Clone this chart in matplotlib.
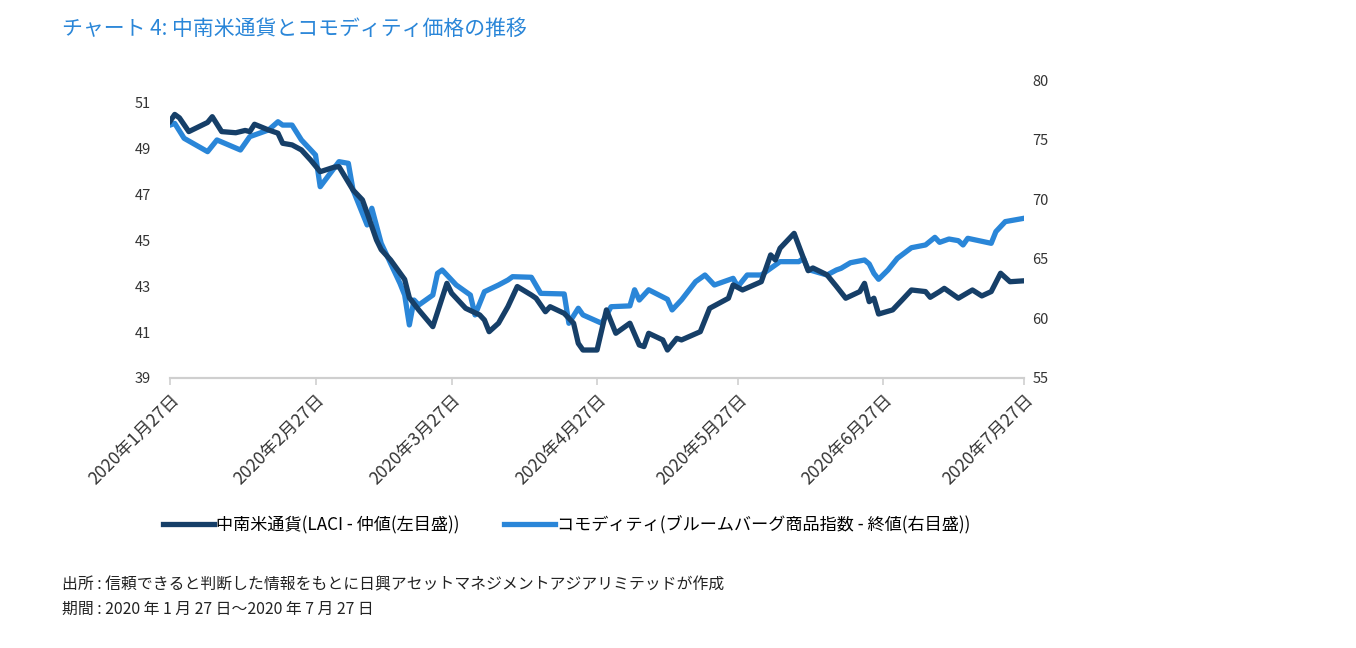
import pandas as pd
import matplotlib
matplotlib.use("Agg")
import matplotlib.pyplot as plt
from matplotlib.lines import Line2D

plt.rcParams['font.family'] = ['Noto Sans CJK JP', 'DejaVu Sans']

# 中南米通貨 (LACI) — days since 2020-01-27, value (left axis)
laci_day = [0, 1, 2, 4, 8, 9, 11, 14, 16, 17, 18, 21, 23, 24, 26, 28, 30, 32, 35, 36,
            39, 41, 42, 44, 45, 47, 50, 51, 53, 56, 59, 60, 63, 66, 67, 68, 70, 72, 74, 77,
            78, 80, 81, 84, 86, 87, 88, 91, 93, 95, 98, 100, 101, 102, 105, 106, 108, 109, 113, 115,
            119, 120, 122, 126, 128, 129, 130, 133, 136, 137, 140, 142, 144, 147, 148, 149, 150, 151, 154, 156,
            158, 161, 162, 164, 165, 168, 171, 173, 175, 177, 179, 182]
laci_val = [50.2, 50.5, 50.35, 49.75, 50.15, 50.4, 49.75, 49.7, 49.8, 49.75, 50.07, 49.82, 49.68, 49.24, 49.17, 48.95, 48.5, 48.0, 48.2, 48.22,
            47.2, 46.77, 46.2, 45.02, 44.6, 44.15, 43.3, 42.5, 41.97, 41.24, 43.13, 42.7, 42.04, 41.75, 41.53, 41.02, 41.39, 42.11, 42.99, 42.62,
            42.48, 41.89, 42.11, 41.82, 41.39, 40.51, 40.22, 40.22, 41.97, 40.95, 41.39, 40.44, 40.37, 40.95, 40.66, 40.22, 40.73, 40.66, 41.02, 42.04,
            42.48, 43.06, 42.84, 43.2, 44.37, 44.15, 44.66, 45.31, 43.68, 43.8, 43.5, 43.0, 42.48, 42.77, 43.13, 42.33, 42.48, 41.79, 41.97, 42.4,
            42.84, 42.77, 42.52, 42.77, 42.91, 42.48, 42.84, 42.58, 42.77, 43.57, 43.2, 43.24]

# コモディティ (ブルームバーグ商品指数) — days since 2020-01-27, value (right axis)
bcom_day = [0, 1, 3, 8, 10, 15, 17, 21, 23, 24, 26, 28, 31, 32, 36, 38, 39, 42, 43, 45,
            49, 50, 51, 52, 53, 56, 57, 58, 61, 64, 65, 67, 70, 72, 73, 77, 79, 84, 85, 87,
            88, 92, 94, 98, 99, 100, 102, 106, 107, 109, 112, 114, 116, 120, 121, 123, 126, 130, 134, 135,
            136, 140, 142, 143, 145, 148, 149, 150, 151, 153, 155, 158, 161, 163, 164, 166, 168, 169, 170, 175,
            176, 178, 182]
bcom_val = [76.22, 76.36, 75.11, 73.99, 74.97, 74.13, 75.25, 75.81, 76.5, 76.22, 76.22, 74.97, 73.71, 71.05, 73.15, 73.01, 70.77, 67.84, 69.24, 66.3,
            62.94, 61.96, 59.45, 61.54, 61.12, 61.96, 63.78, 64.06, 62.8, 61.96, 60.29, 62.24, 62.8, 63.22, 63.5, 63.45, 62.1, 62.05, 59.59, 60.85,
            60.29, 59.59, 60.98, 61.05, 62.4, 61.54, 62.4, 61.6, 60.71, 61.55, 63.08, 63.64, 62.8, 63.36, 62.66, 63.64, 63.64, 64.76, 64.76, 65.04,
            64.1, 63.64, 64.06, 64.2, 64.67, 64.9, 64.57, 63.78, 63.28, 64.06, 65.04, 65.93, 66.16, 66.8, 66.38, 66.66, 66.52, 66.16, 66.72, 66.3,
            67.28, 68.12, 68.4]

tick_dates = ['2020-01-27', '2020-02-27', '2020-03-27', '2020-04-27', '2020-05-27', '2020-06-27', '2020-07-27']
tick_labels = ['2020年1月27日', '2020年2月27日', '2020年3月27日', '2020年4月27日',
               '2020年5月27日', '2020年6月27日', '2020年7月27日']

start = pd.Timestamp('2020-01-27')
laci_x = start + pd.to_timedelta(laci_day, unit='D')
bcom_x = start + pd.to_timedelta(bcom_day, unit='D')

dark = '#163f68'
light = '#2a86d8'
gray = '#cfcfcf'

fig = plt.figure(figsize=(13.56, 6.48), dpi=100)
ax = fig.add_axes([0.1254, 0.4167, 0.6298, 0.4598])
ax2 = ax.twinx()

ax2.plot(bcom_x, bcom_val, color=light, lw=3.8, solid_joinstyle='round', zorder=2)
ax.plot(laci_x, laci_val, color=dark, lw=3.8, solid_joinstyle='round', zorder=3)
ax.set_zorder(ax2.get_zorder() + 1)
ax.patch.set_visible(False)

ax.set_xlim(pd.Timestamp('2020-01-27'), pd.Timestamp('2020-07-27'))
ax.set_ylim(39, 52)
ax.set_yticks(range(39, 52, 2))
ax2.set_ylim(55, 80)
ax2.set_yticks(range(55, 81, 5))

ax.set_xticks(pd.to_datetime(tick_dates))
ax.set_xticklabels(tick_labels, rotation=45, ha='right', rotation_mode='anchor', fontsize=12.5)

for a in (ax, ax2):
    for s in ('top', 'left', 'right'):
        a.spines[s].set_visible(False)
    a.spines['bottom'].set_color(gray)
    a.spines['bottom'].set_linewidth(1.5)
    a.tick_params(axis='y', length=0, labelsize=10.5, colors='#333333', pad=14)
ax.tick_params(axis='x', length=5, color=gray, width=1.2, labelcolor='#333333', pad=4)
ax2.tick_params(axis='y', pad=6)

fig.text(0.046, 0.955, 'チャート 4: 中南米通貨とコモディティ価格の推移', color=light, fontsize=15, va='center')

handles = [Line2D([], [], color=dark, lw=3.8),
           Line2D([], [], color=light, lw=3.8)]
labels = ['中南米通貨(LACI - 仲値(左目盛))', 'コモディティ(ブルームバーグ商品指数 - 終値(右目盛))']
fig.legend(handles, labels, loc='center left', bbox_to_anchor=(0.109, 0.19), ncol=2, frameon=False,
           fontsize=12.3, handlelength=3.0, handletextpad=0.1, columnspacing=2.6)

fig.text(0.046, 0.097, '出所 : 信頼できると判断した情報をもとに日興アセットマネジメントアジアリミテッドが作成',
         fontsize=11.4, color='#222222', va='center')
fig.text(0.046, 0.060, '期間 : 2020 年 1 月 27 日～2020 年 7 月 27 日',
         fontsize=11.4, color='#222222', va='center')

fig.savefig('out.png', dpi=100)
